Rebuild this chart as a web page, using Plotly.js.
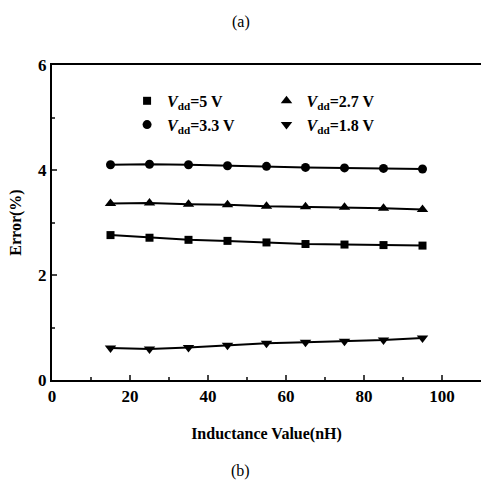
<!DOCTYPE html>
<html><head><meta charset="utf-8">
<script src="https://cdn.plot.ly/plotly-3.0.1.min.js"></script>
<style>body{margin:0;padding:0;background:#fff}#chart{width:481px;height:486px}</style>
</head><body><div id="chart"></div>
<script>
const inductance = [15, 25, 35, 45, 55, 65, 75, 85, 95];
const err5V  = [2.76, 2.71, 2.67, 2.65, 2.62, 2.59, 2.58, 2.57, 2.56];
const err33V = [4.10, 4.11, 4.10, 4.08, 4.07, 4.05, 4.04, 4.03, 4.02];
const err27V = [3.36, 3.37, 3.35, 3.34, 3.31, 3.30, 3.29, 3.27, 3.25];
const err18V = [0.61, 0.59, 0.62, 0.66, 0.70, 0.72, 0.74, 0.76, 0.80];
const seriesNames = ['<i>V</i><sub>dd</sub>=5 V', '<i>V</i><sub>dd</sub>=3.3 V', '<i>V</i><sub>dd</sub>=2.7 V', '<i>V</i><sub>dd</sub>=1.8 V'];
const xTickVals = [0, 20, 40, 60, 80, 100];
const yTickVals = [0, 2, 4, 6];

const serif = 'Liberation Serif';
const series = [
  {y: err5V, sym: 'square', size: 8, legend: 'legend'},
  {y: err33V, sym: 'circle', size: 9, legend: 'legend'},
  {y: err27V, sym: 'triangle-up', size: 10, legend: 'legend2'},
  {y: err18V, sym: 'triangle-down', size: 10, legend: 'legend2'}
];
const traces = [];
series.forEach((s, i) => {
  traces.push({x: inductance, y: s.y, mode: 'lines+markers', showlegend: false,
    line: {color: '#000', width: 2}, marker: {symbol: s.sym, size: s.size, color: '#000'}});
});
series.forEach((s, i) => {
  traces.push({x: [null], y: [null], mode: 'markers', name: seriesNames[i], legend: s.legend,
    marker: {symbol: s.sym, size: s.size, color: '#000'}});
});

const legendFont = {family: serif, size: 16, weight: 700};
const tickFont = {family: serif, size: 17, weight: 700};
const layout = {
  width: 481, height: 486,
  margin: {l: 52, r: 0, t: 65, b: 106},
  paper_bgcolor: '#fff', plot_bgcolor: '#fff',
  font: {family: serif, color: '#000'},
  xaxis: {range: [0, 110], tickvals: xTickVals, ticks: 'inside', ticklen: 5, tickwidth: 2,
    minor: {dtick: 10, tick0: 0, ticks: 'inside', ticklen: 3, tickwidth: 2},
    showline: true, linewidth: 2, linecolor: '#000', mirror: true, showgrid: false, zeroline: false,
    tickfont: tickFont,
    title: {text: 'Inductance Value(nH)', font: {family: serif, size: 16, weight: 700}, standoff: 22}},
  yaxis: {range: [0, 6], tickvals: yTickVals, ticks: 'inside', ticklen: 5, tickwidth: 2,
    minor: {dtick: 1, tick0: 0, ticks: 'inside', ticklen: 3, tickwidth: 2},
    showline: true, linewidth: 2, linecolor: '#000', showgrid: false, zeroline: false,
    tickfont: tickFont,
    title: {text: 'Error(%)', font: {family: serif, size: 16, weight: 700}, standoff: 12}},
  legend: {x: 0.175, y: 0.94, xanchor: 'left', yanchor: 'top', bgcolor: 'rgba(0,0,0,0)',
    font: legendFont, tracegroupgap: 0},
  legend2: {x: 0.50, y: 0.94, xanchor: 'left', yanchor: 'top', bgcolor: 'rgba(0,0,0,0)',
    font: legendFont, tracegroupgap: 0},
  annotations: [
    {text: '(a)', xref: 'paper', yref: 'paper', x: 0.44, y: 1.17, showarrow: false, font: {family: serif, size: 16}},
    {text: '(b)', xref: 'paper', yref: 'paper', x: 0.44, y: -0.325, showarrow: false, font: {family: serif, size: 16}}
  ]
};
Plotly.newPlot('chart', traces, layout, {displayModeBar: false, staticPlot: true});
</script></body></html>
